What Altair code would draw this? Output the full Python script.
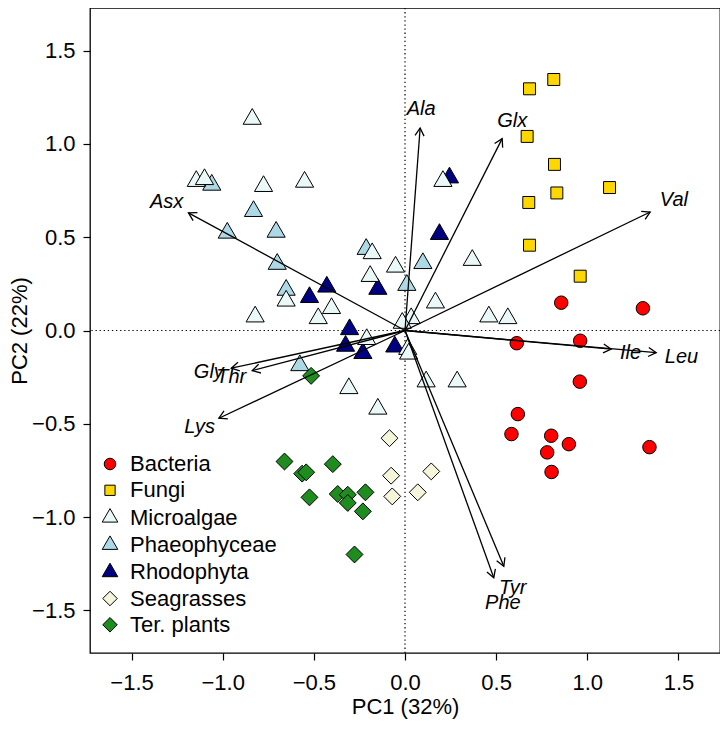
import altair as alt
import pandas as pd
import numpy as np

# ---------------- data ----------------
groups = ["Bacteria", "Fungi", "Microalgae", "Phaeophyceae", "Rhodophyta", "Seagrasses", "Ter. plants"]

bact_x = [0.857, 1.305, 0.613, 0.961, 0.959, 0.619, 0.584, 0.802, 0.899, 0.780, 0.804, 1.341]
bact_y = [0.149, 0.119, -0.068, -0.055, -0.274, -0.448, -0.555, -0.564, -0.609, -0.653, -0.758, -0.625]

fungi_x = [0.683, 0.816, 0.670, 0.820, 0.833, 1.122, 0.679, 0.683, 0.961]
fungi_y = [1.295, 1.345, 1.040, 0.890, 0.737, 0.766, 0.686, 0.457, 0.291]

micro_x = [-0.838, -1.145, -1.100, -0.776, -0.551, -0.180, -0.052, -0.191, -0.652, -0.403, -0.476, -0.822,
           0.208, 0.369, 0.167, 0.460, 0.564, 0.034, -0.015, -0.210, 0.015, 0.020, -0.308, -0.149, 0.116, 0.286]
micro_y = [1.133, 0.800, 0.810, 0.773, 0.796, 0.413, 0.341, 0.291, 0.159, 0.119, 0.065, 0.074,
           0.800, 0.377, 0.149, 0.074, 0.065, 0.065, 0.040, -0.047, -0.100, -0.125, -0.310, -0.420, -0.274, -0.274]

phaeo_x = [-1.060, -0.831, -0.975, -0.707, -0.701, -0.213, 0.098, 0.010, -0.652, -0.577]
phaeo_y = [0.780, 0.639, 0.523, 0.528, 0.356, 0.436, 0.360, 0.243, 0.217, -0.187]

rhodo_x = [0.244, 0.189, -0.149, -0.429, -0.524, -0.304, -0.326, -0.231, -0.056]
rhodo_y = [0.819, 0.516, 0.222, 0.234, 0.178, 0.006, -0.083, -0.122, -0.087]

sea_x = [-0.085, -0.076, -0.070, 0.070, 0.144]
sea_y = [-0.577, -0.778, -0.889, -0.867, -0.755]

ter_x = [-0.661, -0.564, -0.542, -0.396, -0.524, -0.369, -0.314, -0.314, -0.217, -0.231, -0.277, -0.515]
ter_y = [-0.702, -0.767, -0.760, -0.716, -0.894, -0.876, -0.880, -0.924, -0.867, -0.969, -1.200, -0.243]

var_names = ["Asx", "Ala", "Glx", "Val", "Ile", "Leu", "Tyr", "Phe", "Gly", "Thr", "Lys"]
tip_x = [-1.188, 0.083, 0.533, 1.345, 1.131, 1.378, 0.542, 0.487, -0.953, -0.838, -1.021]
tip_y = [0.630, 1.085, 1.028, 0.635, -0.100, -0.119, -1.263, -1.325, -0.202, -0.215, -0.470]
label_x = [-1.308, 0.089, 0.588, 1.475, 1.237, 1.517, 0.591, 0.537, -1.076, -0.953, -1.127]
label_y = [0.687, 1.188, 1.120, 0.700, -0.122, -0.142, -1.379, -1.459, -0.220, -0.250, -0.518]

x_ticks = [-1.5, -1.0, -0.5, 0.0, 0.5, 1.0, 1.5]
y_ticks = [-1.5, -1.0, -0.5, 0.0, 0.5, 1.0, 1.5]

# ---------------- styles ----------------
fills = ["#FF0000", "#FFD700", "#EAF8F8", "#ADD8E6", "#000080", "#F5F5DC", "#1E8C1E"]
TRI = "M0,-1.555L1.347,0.778L-1.347,0.778Z"
SQ = "M-0.886,-0.886L0.886,-0.886L0.886,0.886L-0.886,0.886Z"
DIA = "M-1.253,0L0,-1.253L1.253,0L0,1.253Z"
shapes = ["circle", SQ, TRI, TRI, TRI, DIA, DIA]
HEAD = "M-0.5,0.866L0,0L0.5,0.866"
FONT = "Liberation Sans"

W, H = 630, 645
DOM = [-1.728, 1.728]

# draw order: Microalgae last (on top)
order = [("Bacteria", bact_x, bact_y), ("Fungi", fungi_x, fungi_y),
         ("Phaeophyceae", phaeo_x, phaeo_y), ("Rhodophyta", rhodo_x, rhodo_y),
         ("Seagrasses", sea_x, sea_y), ("Ter. plants", ter_x, ter_y),
         ("Microalgae", micro_x, micro_y)]
rows = []
for g, xs, ys in order:
    for a, b in zip(xs, ys):
        rows.append({"group": g, "x": a, "y": b})
pts_df = pd.DataFrame(rows)

kx = W / (DOM[1] - DOM[0])
ky = H / (DOM[1] - DOM[0])
arr = pd.DataFrame({"var": var_names, "x": tip_x, "y": tip_y, "lx": label_x, "ly": label_y})
arr["x0"] = 0.0
arr["y0"] = 0.0
arr["ang"] = np.degrees(np.arctan2(arr["x"] * kx, arr["y"] * ky)) % 360

zero_df = pd.DataFrame({"z": [0.0]})


def X(field):
    return alt.X(field, type="quantitative",
                 scale=alt.Scale(domain=DOM, nice=False, zero=False),
                 axis=alt.Axis(values=x_ticks, format=".1f", title="PC1 (32%)",
                               labelPadding=12, titlePadding=3))


def Y(field):
    return alt.Y(field, type="quantitative",
                 scale=alt.Scale(domain=DOM, nice=False, zero=False),
                 axis=alt.Axis(values=y_ticks, format=".1f", title="PC2 (22%)",
                               labelPadding=8, titlePadding=0))


leg = alt.Legend(title=None, orient="none", legendX=9, legendY=445,
                 labelFont=FONT, labelFontSize=22, labelColor="black",
                 symbolSize=134, symbolStrokeWidth=1,
                 symbolOpacity=1, rowPadding=4.3, labelOffset=9)

vline = alt.Chart(zero_df).mark_rule(color="black", strokeWidth=1.2, strokeDash=[1.3, 2.8]).encode(x=X("z"))
hline = alt.Chart(zero_df).mark_rule(color="black", strokeWidth=1.2, strokeDash=[1.3, 2.8]).encode(y=Y("z"))

points = alt.Chart(pts_df).mark_point(filled=True, size=182, stroke="black", strokeWidth=1,
                                      opacity=1).encode(
    x=X("x"), y=Y("y"),
    color=alt.Color("group:N", scale=alt.Scale(domain=groups, range=fills), legend=leg),
    shape=alt.Shape("group:N", scale=alt.Scale(domain=groups, range=shapes), legend=leg),
)

shafts = alt.Chart(arr).mark_rule(color="black", strokeWidth=1.3).encode(
    x=X("x0"), y=Y("y0"), x2="x:Q", y2="y:Q")

heads = alt.Chart(arr).mark_point(shape=HEAD, size=324, filled=False, stroke="black",
                                  strokeWidth=1.3, opacity=1).encode(
    x=X("x"), y=Y("y"), angle=alt.Angle("ang:Q", scale=None))

labels = alt.Chart(arr).mark_text(font=FONT, fontSize=20, fontStyle="italic",
                                  align="center", baseline="middle", color="black").encode(
    x=X("lx"), y=Y("ly"), text="var:N")

chart = alt.layer(vline, hline, points, shafts, heads, labels).properties(
    width=W, height=H,
    autosize=alt.AutoSizeParams(type="none"),
    padding={"left": 82, "top": 0, "right": 0, "bottom": 72},
).configure_view(stroke="black", strokeWidth=1.3).configure_axis(
    domain=False, grid=False, ticks=True, tickColor="black", tickSize=7, tickWidth=1.2,
    labelFont=FONT, labelFontSize=22, labelColor="black",
    titleFont=FONT, titleFontSize=22, titleFontWeight="normal", titleColor="black",
)

chart.save("out.html", embed_options={"renderer": "svg", "actions": False})
